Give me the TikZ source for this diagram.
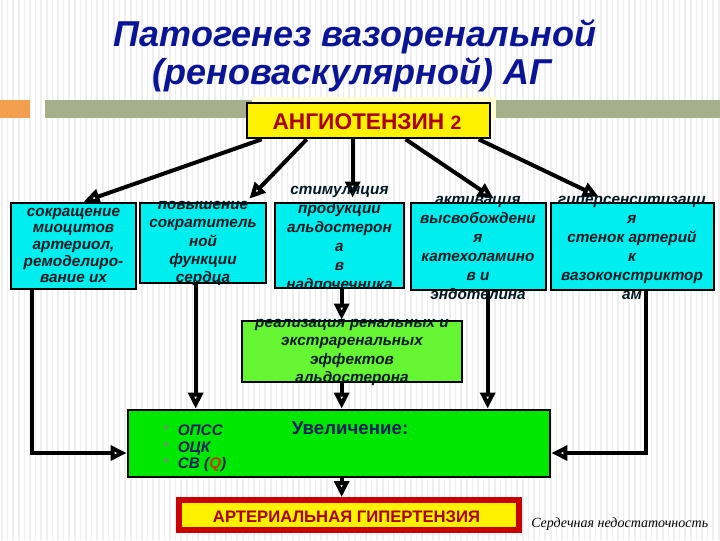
\documentclass[tikz,border=0pt]{standalone}
\usepackage{fontspec}
\setmainfont{Liberation Sans}
\newfontfamily\serifit{Liberation Serif}
\usetikzlibrary{arrows.meta,calc}
\definecolor{titleblue}{RGB}{10,20,150}
\definecolor{cyanbox}{RGB}{0,238,238}
\definecolor{boxtxt}{RGB}{0,25,35}
\definecolor{lgreen}{RGB}{102,245,51}
\definecolor{bgreen}{RGB}{0,232,0}
\definecolor{angred}{RGB}{170,0,0}
\definecolor{ahred}{RGB}{200,0,0}
\definecolor{navy}{RGB}{0,32,96}
\definecolor{qred}{RGB}{204,51,0}
\definecolor{barorange}{RGB}{242,160,80}
\definecolor{barolive}{RGB}{166,174,138}
\definecolor{cream}{RGB}{255,255,210}
\definecolor{stripe}{RGB}{238,238,238}
\tikzset{
  box/.style={draw=black, line width=2pt, rectangle, inner sep=0pt},
  btext/.style={font=\fontsize{11.5}{14.25}\selectfont\bfseries\itshape, text=boxtxt, align=center, inner sep=0pt},
  arr/.style={line width=3pt, -{Triangle[open,length=12pt,width=11pt]}}
}
\begin{document}
\begin{tikzpicture}[x=0.75pt,y=-0.75pt]
\useasboundingbox (0,0) rectangle (720,540);
\fill[white] (0,0) rectangle (720,540);
\foreach \i in {0,...,128} \draw[stripe, line width=1.2pt] (\i*5.6+2,0) -- (\i*5.6+2,540);
% decorative bar
\fill[barorange] (0,100) rectangle (30,118);
\fill[barolive] (45,100) rectangle (720,118);
\fill[cream] (252,97) rectangle (496,120);
% title
\node[font=\fontsize{27}{30}\selectfont\bfseries\itshape, text=titleblue] (t1) at (355,37) {Патогенез вазоренальной};
\node[font=\fontsize{27}{30}\selectfont\bfseries\itshape, text=titleblue] (t2) at (352,75) {(реноваскулярной) АГ};
% angiotensin
\node[box, fill=yellow, minimum width=182.25pt, minimum height=26.25pt] (ang) at (368.5,120.5) {};
\node[font=\fontsize{17}{19}\selectfont\bfseries, text=angred] (angt) at (367,122) {АНГИОТЕНЗИН {\fontsize{14.5}{16}\selectfont 2}};
% five boxes
\node[box, fill=cyanbox, minimum width=93.75pt, minimum height=64.5pt] (b1) at (73.5,246) {};
\node[box, fill=cyanbox, minimum width=94.5pt, minimum height=60pt] (b2) at (203,243) {};
\node[box, fill=cyanbox, minimum width=96.75pt, minimum height=63.75pt] (b3) at (339.5,245.5) {};
\node[box, fill=cyanbox, minimum width=101.25pt, minimum height=65.25pt] (b4) at (478.5,246.5) {};
\node[box, fill=cyanbox, minimum width=122.25pt, minimum height=65.25pt] (b5) at (632.5,246.5) {};
% reaf and big boxes
\node[box, fill=lgreen, minimum width=165pt, minimum height=45.75pt] (reaf) at (352,351.5) {};
\node[box, fill=bgreen, minimum width=316.5pt, minimum height=50.25pt] (big) at (339,443.5) {};
% AH box
\node[draw=ahred, line width=4.5pt, fill=yellow, minimum width=255pt, minimum height=22.5pt, inner sep=0pt] (ah) at (349,515) {};
% arrows from angiotensin
\draw[arr] ($(ang.south west)+(16,0)$) -- ($(b1.north west)+(74,0)$);
\draw[arr] ($(ang.south west)+(61,0)$) -- ($(b2.north east)+(-18,-3)$);
\draw[arr] ($(ang.south west)+(107,0)$) -- ($(b3.north west)+(79,-4)$);
\draw[arr] ($(ang.south west)+(160,0)$) -- ($(b4.north west)+(84,-3)$);
\draw[arr] ($(ang.south west)+(233,0)$) -- ($(b5.north west)+(49,-5)$);
% arrows down
\draw[arr] ($(b1.south west)+(22,0)$) |- ($(big.west)+(0,9.5)$);
\draw[arr] ($(b2.south west)+(57,0)$) coordinate (s2) -- (s2 |- big.north);
\draw[arr] ($(b3.south west)+(68,0)$) coordinate (s3) -- (s3 |- reaf.north);
\draw[arr] (reaf.south -| s3) -- (s3 |- big.north);
\draw[arr] ($(b4.south west)+(78,0)$) coordinate (s4) -- (s4 |- big.north);
\draw[arr] ($(b5.south west)+(96,0)$) |- ($(big.east)+(0,9.5)$);
\draw[arr] (big.south -| s3) -- (s3 |- ah.north);
% box texts
\node[btext, font=\fontsize{11.5}{12.5}\selectfont\bfseries\itshape] (b1t) at (73.5,245.5) {сокращение\\миоцитов\\артериол,\\ремоделиро-\\вание их};
\node[btext, font=\fontsize{11.5}{13.7}\selectfont\bfseries\itshape] (b2t) at (203,243.5) {повышение\\сократитель\\ной\\функции\\сердца};
\node[btext] (b3t) at (339.5,237.5) {стимуляция\\продукции\\альдостерон\\а\\в\\надпочечника};
\node[btext] (b4t) at (478,247.5) {активация\\высвобождени\\я\\катехоламино\\в и\\эндотелина};
\node[btext] (b5t) at (632,247.5) {гиперсенситизаци\\я\\стенок артерий\\к\\вазоконстриктор\\ам};
\node[btext, font=\fontsize{11.5}{13.75}\selectfont\bfseries\itshape] (reaft) at (352,352.5) {реализация ренальных и\\экстраренальных\\эффектов\\альдостерона};
% big box texts
\node[font=\fontsize{14}{16}\selectfont\bfseries, text=navy] (uv) at (350,428) {Увеличение:};
\node[anchor=west, align=left, inner sep=0pt, font=\fontsize{11.5}{12.4}\selectfont\bfseries\itshape, text=navy] (list) at (163,448.5) {{\mdseries\upshape\textcolor{gray}{*}}\ \ ОПСС\\{\mdseries\upshape\textcolor{gray}{*}}\ \ ОЦК\\{\mdseries\upshape\textcolor{gray}{*}}\ \ СВ (\textcolor{qred}{Q})};
% AH text
\node[font=\fontsize{12.5}{14}\selectfont\bfseries, text=angred] (aht) at (346.5,517) {АРТЕРИАЛЬНАЯ ГИПЕРТЕНЗИЯ};
\node[anchor=west, inner sep=0pt, font=\serifit\fontsize{10.5}{12}\selectfont\itshape] (hf) at (531,524) {Сердечная недостаточность};
\end{tikzpicture}
\end{document}
